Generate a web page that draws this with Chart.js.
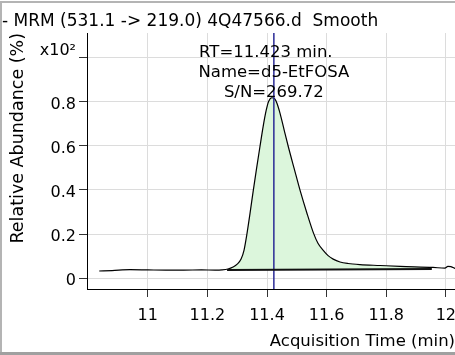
<!DOCTYPE html>
<html>
<head>
<meta charset="utf-8">
<script src="https://cdn.jsdelivr.net/npm/chart.js@4/dist/chart.umd.min.js"></script>
<style>
  html, body { margin: 0; padding: 0; background: #fff; overflow: hidden; }
  #chart { display: block; }
</style>
</head>
<body>
<!-- a little wider than the window so the last x label runs off the edge -->
<canvas id="chart" width="465" height="355"></canvas>
<script>
const titleText = '- MRM (531.1 -> 219.0) 4Q47566.d  Smooth';

// smoothed trace, abundance in units of 10^2 %
const times = [10.837, 10.88, 10.94, 11.00, 11.06, 11.12, 11.18, 11.226, 11.249, 11.269,
  11.286, 11.300, 11.313, 11.323, 11.332, 11.343, 11.354, 11.365, 11.376, 11.387,
  11.397, 11.405, 11.416, 11.426, 11.434, 11.444, 11.458, 11.472, 11.491, 11.511,
  11.533, 11.556, 11.571, 11.588, 11.605, 11.622, 11.645, 11.672, 11.712, 11.779,
  11.847, 11.957, 11.997, 12.007, 12.017, 12.031];
const abundance = [0.032, 0.034, 0.038, 0.037, 0.036, 0.036, 0.037, 0.036, 0.037, 0.041,
  0.050, 0.063, 0.086, 0.127, 0.195, 0.294, 0.398, 0.498, 0.594, 0.688,
  0.760, 0.801, 0.819, 0.814, 0.792, 0.747, 0.670, 0.594, 0.498, 0.398,
  0.299, 0.204, 0.158, 0.127, 0.102, 0.086, 0.073, 0.066, 0.061, 0.057,
  0.053, 0.048, 0.045, 0.053, 0.052, 0.043];

// integration baseline (start/end time and level)
const baseTimes = [11.266, 11.953];
const baseLevels = [0.037, 0.041];

const retentionTime = 11.423;
const compoundName = 'd5-EtFOSA';
const signalToNoise = 269.72;

const xTicks = [11, 11.2, 11.4, 11.6, 11.8, 12];
const yTicks = [0, 0.2, 0.4, 0.6, 0.8, 1];

const xMin = 10.796, xMax = 12.031;
const yMin = -0.0498, yMax = 1.113;

const FONT = 'DejaVu Sans';
Chart.defaults.font.family = FONT;
Chart.defaults.color = '#000';

const trace = times.map((t, i) => ({ x: t, y: abundance[i] }));
const baseline = baseTimes.map((t, i) => ({ x: t, y: baseLevels[i] }));

// grey frame round the plot window
const framePlugin = {
    id: 'frame',
    beforeDraw(chart) {
        const ctx = chart.ctx;
        ctx.save();
        ctx.fillStyle = '#fff';
        ctx.fillRect(0, 0, chart.width, chart.height);
        ctx.fillStyle = '#b4b4b4';
        ctx.fillRect(0, 1, chart.width, 2);
        ctx.fillRect(0, 1, 2, chart.height);
        ctx.fillStyle = '#a0a0a0';
        ctx.fillRect(0, chart.height - 3, chart.width, 3);
        ctx.restore();
    }
};

// peak label above the apex
const peakLabel = {
    id: 'peakLabel',
    afterDatasetsDraw(chart) {
        const ctx = chart.ctx;
        const x = chart.scales.x.getPixelForValue(retentionTime);
        ctx.save();
        ctx.font = '16.5px "' + FONT + '"';
        ctx.fillStyle = '#000';
        ctx.textAlign = 'center';
        ctx.textBaseline = 'alphabetic';
        ctx.fillText('RT=' + retentionTime.toFixed(3) + ' min.', x - 8, 57);
        ctx.fillText('Name=' + compoundName, x, 77);
        ctx.fillText('S/N=' + signalToNoise.toFixed(2), x, 96.5);
        ctx.restore();
    }
};

new Chart(document.getElementById('chart'), {
    type: 'line',
    data: {
        datasets: [
            {
                data: baseline,
                borderColor: '#111',
                borderWidth: 2,
                pointRadius: 0,
                fill: false
            },
            {
                data: [{ x: retentionTime, y: yMin }, { x: retentionTime, y: yMax }],
                borderColor: '#2a2a96',
                borderWidth: 1.5,
                pointRadius: 0,
                fill: false
            },
            {
                data: trace,
                borderColor: '#000',
                borderWidth: 1.2,
                pointRadius: 0,
                cubicInterpolationMode: 'monotone',
                backgroundColor: 'rgb(220,246,220)',
                fill: { target: 0, above: 'rgb(220,246,220)', below: 'rgb(220,246,220)' }
            }
        ]
    },
    options: {
        responsive: false,
        animation: false,
        layout: { padding: { left: 2, top: 0, right: 0, bottom: 0 }, autoPadding: false },
        plugins: {
            legend: { display: false },
            tooltip: { enabled: false },
            title: {
                display: true,
                text: titleText,
                align: 'start',
                color: '#000',
                font: { size: 17, weight: 'normal' },
                padding: { top: 11, bottom: 1.6 }
            }
        },
        scales: {
            x: {
                type: 'linear',
                min: xMin,
                max: xMax,
                afterFit: s => { s.height = 66; },
                afterBuildTicks: s => { s.ticks = xTicks.map(v => ({ value: v })); },
                border: { color: '#000', width: 1 },
                grid: { color: '#dcdcdc', tickColor: '#333', tickLength: 8 },
                ticks: {
                    font: { size: 16 },
                    color: '#000',
                    padding: 9,
                    maxRotation: 0,
                    autoSkip: false,
                    callback: v => String(Math.round(v * 10) / 10)
                },
                title: {
                    display: true,
                    text: 'Acquisition Time (min)',
                    align: 'end',
                    color: '#000',
                    font: { size: 16.5 },
                    padding: { top: 0, bottom: 3 }
                }
            },
            y: {
                min: yMin,
                max: yMax,
                afterFit: s => { s.width = 85; },
                afterBuildTicks: s => { s.ticks = yTicks.map(v => ({ value: v })); },
                border: { color: '#000', width: 1 },
                grid: { color: '#dcdcdc', tickColor: '#333', tickLength: 8 },
                ticks: {
                    font: { size: 16 },
                    color: '#000',
                    padding: 3,
                    labelOffset: 3,
                    autoSkip: false,
                    callback: v => v === 1 ? ['x10\u00B2', ''] : String(Math.round(v * 10) / 10)
                },
                title: {
                    display: true,
                    text: 'Relative Abundance (%)',
                    align: 'end',
                    color: '#000',
                    font: { size: 17.5 },
                    padding: { top: 6, bottom: 0 }
                }
            }
        }
    },
    plugins: [framePlugin, peakLabel]
});
</script>
</body>
</html>
